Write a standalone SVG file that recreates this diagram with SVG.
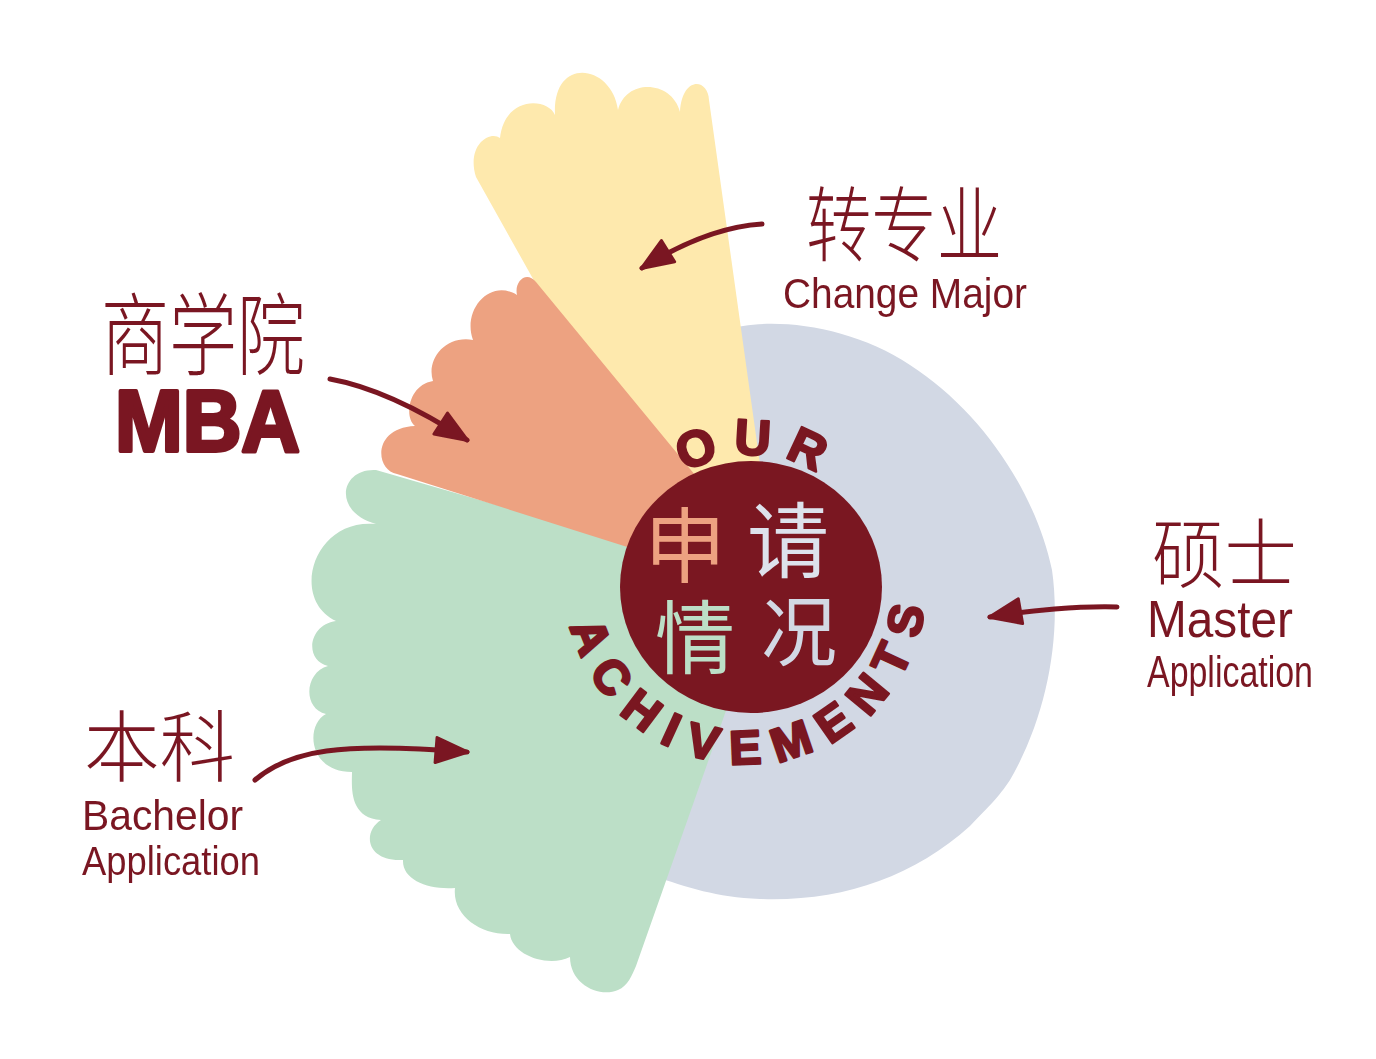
<svg xmlns="http://www.w3.org/2000/svg" width="1376" height="1059" viewBox="0 0 1376 1059">
  <defs>
    <style>
      .ink { fill: #7a1721; }
      .hand { font-family: "Liberation Sans", "Noto Sans", sans-serif; fill: #7a1721; }
      .cjk { font-family: "Noto Sans CJK SC", "Noto Sans", sans-serif; fill: #7a1721; }
      .ring { font-family: "Liberation Sans", Arial, sans-serif; font-weight: 700; fill: #7a1721; stroke: #7a1721; stroke-width: 2.5; stroke-linejoin: round; }
      .arrow { fill: none; stroke: #7a1721; stroke-width: 5; stroke-linecap: round; }
    </style>
    <marker id="head" markerUnits="userSpaceOnUse" markerWidth="40" markerHeight="34" refX="33" refY="14" orient="auto">
      <path d="M2,2 L34,14 L2,27 Z" fill="#7a1721" stroke="#7a1721" stroke-width="3" stroke-linejoin="round"/>
    </marker>
    <filter id="soft" x="-5%" y="-5%" width="110%" height="110%">
      <feGaussianBlur stdDeviation="0.6"/>
    </filter>
    <path id="arcTop" d="M 619,587 A 132,132 0 0 1 883,587"/>
    <path id="arcBottom" d="M 566,584 A 180,180 0 0 0 926,584"/>
  </defs>

  <rect width="1376" height="1059" fill="#ffffff"/>

  <g id="sector-master">
    <path fill="#d2d8e4" d="M 700,600 L 725,330 C 770,316 850,325 910,365 C 980,410 1035,490 1052,570 C 1062,640 1045,720 1010,780 C 998,798 990,805 970,826 C 912,878 840,902 760,899 C 715,897 690,888 650,875 Z"/>
  </g>

  <g id="sector-bachelor">
    <path fill="#bcdfc7" d="M 790,590 L 376,470 C 340,468 332,512 376,524 C 312,518 290,600 336,621 C 308,625 304,660 328,666 C 305,672 302,708 326,714 C 305,725 308,772 352,772 C 352,785 348,818 381,820 C 362,832 366,862 403,860 C 402,880 428,890 455,888 C 452,915 480,935 510,934 C 512,955 548,968 570,957 C 570,985 600,998 618,990 C 628,986 632,975 636,966 L 765,600 Z"/>
  </g>

  <g id="sector-change-major">
    <path fill="#fee9ad" d="M 779,600 L 709,100 C 708,78 682,76 680,112 C 672,80 626,78 618,110 C 612,64 552,55 555,115 C 548,98 505,95 500,138 C 490,130 466,145 476,177 L 640,470 Z"/>
  </g>

  <g id="sector-mba">
    <path fill="#eda281" d="M 798,601 L 397,474 C 375,470 372,428 415,426 C 404,418 408,385 433,381 C 426,360 445,335 473,340 C 462,310 490,278 517,295 C 514,282 526,270 536,282 L 798,600 Z"/>
  </g>

  <g id="center">
    <ellipse cx="751" cy="587" rx="131" ry="126" fill="#7a1721"/>
    <text class="cjk" font-size="82" text-anchor="middle" x="685" y="576" style="fill:#eda281">申</text>
    <text class="cjk" font-size="82" text-anchor="middle" x="788" y="571" style="fill:#dde2ec">请</text>
    <text class="cjk" font-size="80" text-anchor="middle" x="695" y="667" style="fill:#bcdfc7">情</text>
    <text class="cjk" font-size="76" text-anchor="middle" x="799" y="660" style="fill:#d2d8e4">况</text>
    <text class="ring" font-size="50" letter-spacing="14"><textPath href="#arcTop" startOffset="213.6" text-anchor="middle">OUR</textPath></text>
    <text class="ring" font-size="48" letter-spacing="15"><textPath href="#arcBottom" startOffset="299.6" text-anchor="middle">ACHIVEMENTS</textPath></text>
  </g>

  <g id="label-change-major" filter="url(#soft)">
    <text class="cjk" font-size="82" x="806" y="255" textLength="196" lengthAdjust="spacingAndGlyphs" font-weight="300">转专业</text>
    <text class="hand" font-size="43" x="783" y="308" textLength="244" lengthAdjust="spacingAndGlyphs">Change Major</text>
  </g>

  <g id="label-mba" filter="url(#soft)">
    <text class="cjk" font-size="90" x="101" y="368" textLength="204" lengthAdjust="spacingAndGlyphs" font-weight="300">商学院</text>
    <text class="hand" font-size="88" font-weight="700" x="115" y="451" textLength="185" lengthAdjust="spacingAndGlyphs" stroke="#7a1721" stroke-width="4" stroke-linejoin="round">MBA</text>
  </g>

  <g id="label-master" filter="url(#soft)">
    <text class="cjk" font-size="76" x="1152" y="582" textLength="145" lengthAdjust="spacingAndGlyphs" font-weight="300">硕士</text>
    <text class="hand" font-size="52" x="1147" y="637" textLength="146" lengthAdjust="spacingAndGlyphs">Master</text>
    <text class="hand" font-size="45" x="1147" y="687" textLength="166" lengthAdjust="spacingAndGlyphs">Application</text>
  </g>

  <g id="label-bachelor" filter="url(#soft)">
    <text class="cjk" font-size="78" x="84" y="776" textLength="151" lengthAdjust="spacingAndGlyphs" font-weight="300">本科</text>
    <text class="hand" font-size="42" x="82" y="830" textLength="161" lengthAdjust="spacingAndGlyphs">Bachelor</text>
    <text class="hand" font-size="40" x="82" y="875" textLength="178" lengthAdjust="spacingAndGlyphs">Application</text>
  </g>

  <g id="connectors" filter="url(#soft)">
    <path class="arrow" marker-end="url(#head)" d="M 762,224 C 730,226 690,238 642,268"/>
    <path class="arrow" marker-end="url(#head)" d="M 330,379 C 380,388 430,416 467,440"/>
    <path class="arrow" marker-end="url(#head)" d="M 1117,607 C 1080,606 1030,610 990,617"/>
    <path class="arrow" marker-end="url(#head)" d="M 255,780 C 290,750 340,742 467,752"/>
  </g>
</svg>
